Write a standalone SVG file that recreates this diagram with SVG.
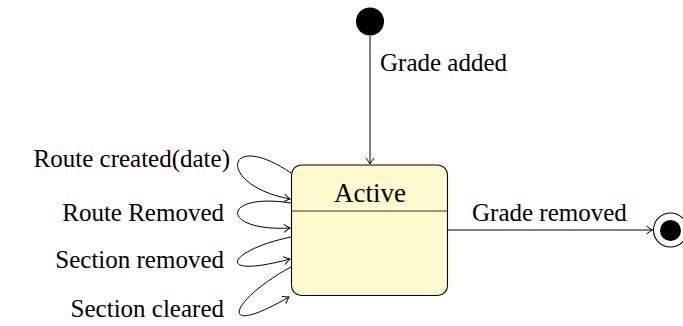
<svg xmlns="http://www.w3.org/2000/svg" width="683" height="326" viewBox="0 0 683 326">
  <style>
    .lbl { font-family: 'Liberation Serif', 'DejaVu Serif', serif; font-size: 25px; fill: #000; }
    .title { font-family: 'Liberation Serif', 'DejaVu Serif', serif; font-size: 27px; fill: #000; }
    .edge { fill: none; stroke: #000; stroke-width: 1; marker-end: url(#arrow); }
  </style>
  <defs>
    <marker id="arrow" viewBox="-8 -6 10 12" markerWidth="10" markerHeight="12" refX="0" refY="0" orient="auto" markerUnits="userSpaceOnUse">
      <path d="M-6,-4 Q-2,-1 0,0 Q-2,1 -6,4" fill="none" stroke="#000" stroke-width="1"/>
    </marker>
  </defs>
  <rect width="683" height="326" fill="#fff"/>

  <g id="connectors">
    <!-- initial -> Active -->
    <path class="edge" d="M370,36 L370,164"/>
    <!-- Active -> final -->
    <path class="edge" d="M448,230 L652.5,230"/>
    <!-- self loops on the left side of Active -->
    <path class="edge" d="M291,173 C225,128 215,185 290,199"/>
    <path class="edge" d="M291,203 C220,192 220,232 290,228"/>
    <path class="edge" d="M291,237 C228,250 212,280 290,259"/>
    <path class="edge" d="M291,267 C230,300 215,340 289,297"/>
  </g>

  <g id="edge-labels">
    <text class="lbl" style="font-family: 'Liberation Serif', serif" x="380" y="71">Grade added</text>
    <text class="lbl" style="font-family: 'Liberation Serif', serif" x="472" y="221">Grade removed</text>
    <text class="lbl" style="font-family: 'Liberation Serif', serif" x="230" y="167" text-anchor="end">Route created(date)</text>
    <text class="lbl" style="font-family: 'Liberation Serif', serif" x="224" y="221" text-anchor="end">Route Removed</text>
    <text class="lbl" style="font-family: 'Liberation Serif', serif" x="224" y="268" text-anchor="end">Section removed</text>
    <text class="lbl" style="font-family: 'Liberation Serif', serif" x="224" y="317" text-anchor="end">Section cleared</text>
  </g>

  <g id="initial">
    <circle cx="370" cy="21.5" r="14" fill="#000"/>
  </g>

  <g id="active">
    <rect x="291.5" y="165" width="156" height="130.5" rx="10" ry="10" fill="#fffacd" stroke="#000" stroke-width="1.1"/>
    <line x1="291.5" y1="211" x2="447.5" y2="211" stroke="#333" stroke-width="1"/>
    <text class="title" style="font-family: 'Liberation Serif', serif" x="370" y="202" text-anchor="middle">Active</text>
  </g>

  <g id="final">
    <circle cx="670.5" cy="230" r="17" fill="#fff" stroke="#000" stroke-width="1.1"/>
    <circle cx="670.5" cy="230.5" r="10.5" fill="#000"/>
  </g>
</svg>
